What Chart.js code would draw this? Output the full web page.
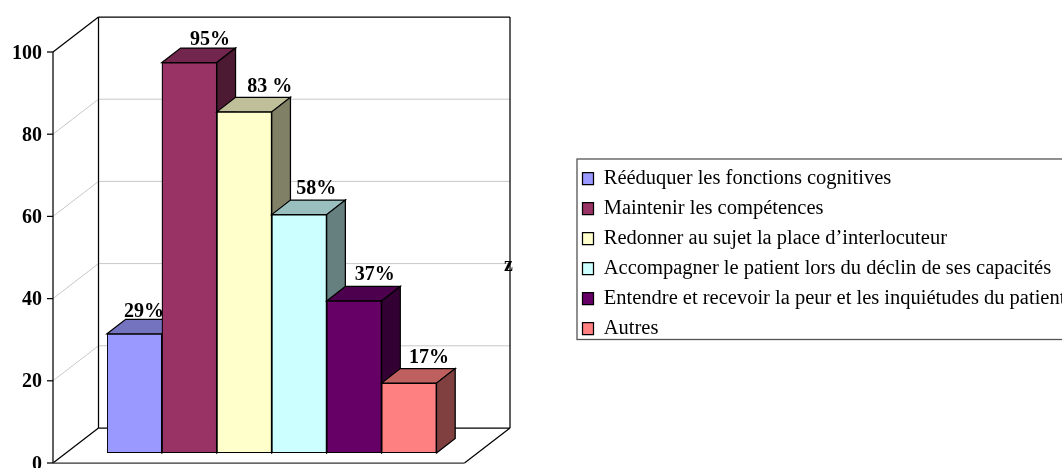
<!DOCTYPE html>
<html lang="fr">
<head>
    <meta charset="UTF-8">
    <title>Graphique en barres</title>
    <script src="https://cdn.jsdelivr.net/npm/chart.js"></script>
    <style>
        html, body { margin: 0; padding: 0; background: #fff; overflow: hidden; }
        canvas { display: block; }
    </style>
</head>
<body>
    <canvas id="barChart" width="1062" height="468"></canvas>

    <script>
        const categories = [
            'Rééduquer les fonctions cognitives',
            'Maintenir les compétences',
            'Redonner au sujet la place d’interlocuteur',
            'Accompagner le patient lors du déclin de ses capacités',
            'Entendre et recevoir la peur et les inquiétudes du patient',
            'Autres'
        ];
        const seriesValues = [29, 95, 83, 58, 37, 17];
        const valueLabels = ['29%', '95%', '83 %', '58%', '37%', '17%'];
        const tickValues = [0, 20, 40, 60, 80, 100];

        const seriesColors = ['#9999FF', '#993366', '#FFFFCC', '#CCFFFF', '#660066', '#FF8080'];
        const serifFont = '"Liberation Serif", "Times New Roman", serif';

        // fake 3D box, measured from the plane the bars stand on
        const floorMargin = 41;
        const frontOffset = { x: -13, y: 10 };
        const backOffset = { x: 32.5, y: -25 };
        const barDepth = { x: 18.7, y: -14.5 };
        const lineWeight = 1.25;
        // label shift from the bar centre / back edge of its top face
        const labelNudge = [
            { x: 9.5, y: -2 }, { x: 20.5, y: -3.5 }, { x: 25.5, y: -5 },
            { x: 17, y: -6 }, { x: 20.5, y: -6 }, { x: 20, y: -6 }
        ];

        function shade(hex, k) {
            const n = parseInt(hex.slice(1), 16);
            const r = Math.round((n >> 16 & 255) * k);
            const g = Math.round((n >> 8 & 255) * k);
            const b = Math.round((n & 255) * k);
            return `rgb(${r},${g},${b})`;
        }

        function line(ctx, x1, y1, x2, y2, color, width) {
            ctx.strokeStyle = color;
            ctx.lineWidth = width;
            ctx.beginPath();
            ctx.moveTo(x1, y1);
            ctx.lineTo(x2, y2);
            ctx.stroke();
        }

        function face(ctx, pts, fill) {
            ctx.fillStyle = fill;
            ctx.strokeStyle = '#000';
            ctx.lineWidth = lineWeight;
            ctx.beginPath();
            pts.forEach((p, i) => i ? ctx.lineTo(p[0], p[1]) : ctx.moveTo(p[0], p[1]));
            ctx.closePath();
            ctx.fill();
            ctx.stroke();
        }

        const box3d = {
            id: 'box3d',
            afterLayout(chart) {
                // the legend sits right of the plot, not inside it
                const legend = chart.legend;
                legend.left = 573;
                legend.right = 1090;
                legend.top = 158.75;
                legend.bottom = 400;
                legend.width = legend.right - legend.left;
                legend.height = legend.bottom - legend.top;
            },
            beforeDatasetsDraw(chart) {
                const ctx = chart.ctx;
                const yScale = chart.scales.y;
                const left = chart.chartArea.left - floorMargin;
                const right = chart.chartArea.right + floorMargin;
                const fx = left + frontOffset.x;
                const bx = left + backOffset.x;
                const brx = right + backOffset.x;
                const frx = right + frontOffset.x;
                ctx.save();
                tickValues.forEach(v => {
                    const p = yScale.getPixelForValue(v);
                    const fy = p + frontOffset.y;
                    const by = p + backOffset.y;
                    const edge = v === 0 || v === 100;
                    const color = edge ? '#000' : '#c8c8c8';
                    const width = edge ? lineWeight : 1;
                    line(ctx, fx, fy, bx, by, color, width);
                    line(ctx, bx, by, brx, by, color, width);
                    line(ctx, fx - 6, fy, fx, fy, '#000', lineWeight);
                });
                const top = yScale.getPixelForValue(100);
                const base = yScale.getPixelForValue(0);
                line(ctx, fx, top + frontOffset.y, fx, base + frontOffset.y, '#000', lineWeight);
                line(ctx, bx, top + backOffset.y, bx, base + backOffset.y, '#000', lineWeight);
                line(ctx, brx, top + backOffset.y, brx, base + backOffset.y, '#000', lineWeight);
                line(ctx, fx, base + frontOffset.y, frx, base + frontOffset.y, '#333', lineWeight);
                line(ctx, frx, base + frontOffset.y, brx, base + backOffset.y, '#000', lineWeight);
                ctx.restore();
            },
            beforeDatasetDraw(chart, args) {
                const ctx = chart.ctx;
                const bar = args.meta.data[args.index];
                const x1 = bar.x - bar.width / 2;
                const x2 = bar.x + bar.width / 2;
                const dx = barDepth.x;
                const dy = barDepth.y;
                const color = seriesColors[args.index];
                ctx.save();
                face(ctx, [[x1, bar.y], [x1 + dx, bar.y + dy], [x2 + dx, bar.y + dy], [x2, bar.y]], shade(color, 0.75));
                face(ctx, [[x2, bar.y], [x2 + dx, bar.y + dy], [x2 + dx, bar.base + dy], [x2, bar.base]], shade(color, 0.5));
                ctx.restore();
            },
            afterDatasetDraw(chart, args) {
                // drawn here so the next bar can hide part of the label, as in the original
                const ctx = chart.ctx;
                const bar = args.meta.data[args.index];
                const nudge = labelNudge[args.index];
                ctx.save();
                ctx.font = 'bold 20px ' + serifFont;
                ctx.fillStyle = '#000';
                ctx.textAlign = 'center';
                ctx.textBaseline = 'alphabetic';
                ctx.fillText(valueLabels[args.index], bar.x + nudge.x, bar.y + barDepth.y + nudge.y);
                ctx.restore();
            },
            afterDraw(chart) {
                const ctx = chart.ctx;
                ctx.save();
                ctx.strokeStyle = '#555';
                ctx.lineWidth = 1.3;
                ctx.strokeRect(577, 159, 500, 180.5);
                ctx.font = 'bold 20px ' + serifFont;
                ctx.fillStyle = '#000';
                ctx.textAlign = 'center';
                ctx.fillText('z', 508.5, 271);
                ctx.restore();
            }
        };

        window.addEventListener('load', () => {
            new Chart(document.getElementById('barChart').getContext('2d'), {
                type: 'bar',
                data: {
                    labels: categories,
                    // one dataset per bar so the legend lists them and each bar paints over the one before
                    datasets: categories.map((name, i) => ({
                        label: name,
                        data: categories.map((c, j) => j === i ? seriesValues[i] : null),
                        backgroundColor: seriesColors[i],
                        borderColor: '#000',
                        borderWidth: lineWeight,
                        borderSkipped: false,
                        order: categories.length - i
                    }))
                },
                options: {
                    responsive: false,
                    animation: false,
                    categoryPercentage: 1,
                    barPercentage: 1,
                    layout: { padding: { left: 0, right: 625.5, top: 42, bottom: 15 } },
                    scales: {
                        x: { display: false, stacked: true },
                        y: {
                            stacked: true,
                            min: 0,
                            max: 100,
                            afterFit(axis) {
                                axis.width = 107;
                                axis.paddingTop = 0;
                                axis.paddingBottom = 0;
                            },
                            grid: { display: false, drawTicks: false },
                            border: { display: false },
                            ticks: {
                                stepSize: 20,
                                padding: 65,
                                labelOffset: 11.5,
                                color: '#000',
                                font: { family: serifFont, size: 20, weight: 'bold' }
                            }
                        }
                    },
                    plugins: {
                        tooltip: { enabled: false },
                        legend: {
                            position: 'chartArea',
                            align: 'start',
                            labels: {
                                color: '#000',
                                boxWidth: 11,
                                boxHeight: 12,
                                padding: 9.5,
                                sort: (a, b) => a.datasetIndex - b.datasetIndex,
                                font: { family: serifFont, size: 20.5 }
                            }
                        }
                    }
                },
                plugins: [box3d]
            });
        });
    </script>
</body>
</html>
